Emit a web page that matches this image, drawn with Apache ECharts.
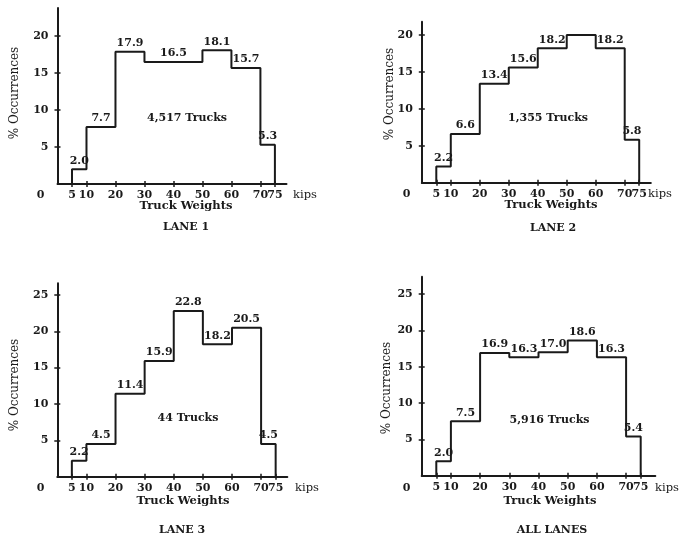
<!DOCTYPE html>
<html>
<head>
<meta charset="utf-8">
<script src="https://cdn.jsdelivr.net/npm/echarts@6/dist/echarts.min.js"></script>
<style>html,body{margin:0;padding:0;background:#fff}#c{width:681px;height:535px}</style>
</head>
<body>
<div id="c"></div>
<script>
// ---- data ----
const binEdges = [5, 10, 20, 30, 40, 50, 60, 70, 75];
const xTickValues = [5, 10, 20, 30, 40, 50, 60, 70, 75];
const lane1Values = [2.0, 7.7, 17.9, 16.5, 16.5, 18.1, 15.7, 5.3];
const lane2Values = [2.2, 6.6, 13.4, 15.6, 18.2, 20.0, 18.2, 5.8];
const lane3Values = [2.2, 4.5, 11.4, 15.9, 22.8, 18.2, 20.5, 4.5];
const allLanesValues = [2.0, 7.5, 16.9, 16.3, 17.0, 18.6, 16.3, 5.4];
// label spans: [first bin, last bin] that a value label is centred over
const lane1LabelSpans = [[0,0],[1,1],[2,2],[3,4],[5,5],[6,6],[7,7]];
const lane2LabelSpans = [[0,0],[1,1],[2,2],[3,3],[4,4],[6,6],[7,7]];
const lane3LabelSpans = [[0,0],[1,1],[2,2],[3,3],[4,4],[5,5],[6,6],[7,7]];
const allLanesLabelSpans = [[0,0],[1,1],[2,2],[3,3],[4,4],[5,5],[6,6],[7,7]];
const panelTitles = ['LANE 1', 'LANE 2', 'LANE 3', 'ALL LANES'];
const truckCounts = ['4,517 Trucks', '1,355 Trucks', '44 Trucks', '5,916 Trucks'];
const yTicksSmall = [5, 10, 15, 20];
const yTicksLarge = [5, 10, 15, 20, 25];

// ---- layout ----
const panels = [
  {values: lane1Values, spans: lane1LabelSpans, yTicks: yTicksSmall,
   grid: {left: 57.5, top: 8, width: 229, height: 176}, xMax: 79, yMax: 23.8,
   zero: [40.5, 195], kips: [293, 195], yTitle: [15, 93], xTitle: [186, 206.5], title: [186, 227], trucks: [187, 118]},
  {values: lane2Values, spans: lane2LabelSpans, yTicks: yTicksSmall,
   grid: {left: 421.8, top: 21.7, width: 229, height: 161}, xMax: 79, yMax: 21.8,
   zero: [406.7, 194.5], kips: [648, 194.5], yTitle: [390, 94], xTitle: [551, 205], title: [553, 228], trucks: [548, 118]},
  {values: lane3Values, spans: lane3LabelSpans, yTicks: yTicksLarge,
   grid: {left: 57.3, top: 283.3, width: 230, height: 193.4}, xMax: 79, yMax: 26.6,
   zero: [40.7, 488], kips: [295, 488], yTitle: [15, 385], xTitle: [183, 501.5], title: [182, 530], trucks: [188, 418]},
  {values: allLanesValues, spans: allLanesLabelSpans, yTicks: yTicksLarge,
   grid: {left: 421.7, top: 276.7, width: 233.6, height: 199}, xMax: 80, yMax: 27.4,
   zero: [406.7, 488], kips: [655, 488], yTitle: [386.7, 388], xTitle: [550, 501.5], title: [552, 530], trucks: [549.5, 420]}
];

const INK = '#1a1a1a';
const FONT = '"DejaVu Serif", serif';
const labelFont = {color: INK, fontFamily: FONT, fontWeight: 'bold', fontSize: 11};

const grids = [], xAxes = [], yAxes = [], series = [], graphics = [];
panels.forEach((p, i) => {
  grids.push(Object.assign({containLabel: false}, p.grid));
  const xBase = {type: 'value', gridIndex: i, position: 'bottom', offset: 0, min: 0, max: p.xMax, splitLine: {show: false}};
  const yBase = {type: 'value', gridIndex: i, position: 'left', offset: 0, min: 0, max: p.yMax, splitLine: {show: false}};
  // the last two x labels nearly touch, so they are split across the two stacked axes
  const lastTick = xTickValues[xTickValues.length - 1];
  xAxes.push(Object.assign({}, xBase, {
    axisLine: {show: true, onZero: false, lineStyle: {color: INK, width: 2}},
    axisTick: {show: true, inside: false, length: 3, customValues: xTickValues, lineStyle: {color: INK, width: 1.5}},
    axisLabel: Object.assign({show: true, customValues: xTickValues.slice(0, -1), hideOverlap: false, margin: 6}, labelFont)
  }));
  xAxes.push(Object.assign({}, xBase, {
    axisLine: {show: false, onZero: false},
    axisTick: {show: true, inside: true, length: 3, customValues: xTickValues, lineStyle: {color: INK, width: 1.5}},
    axisLabel: Object.assign({show: true, customValues: [lastTick], hideOverlap: false, margin: 6}, labelFont)
  }));
  yAxes.push(Object.assign({}, yBase, {
    axisLine: {show: true, onZero: false, lineStyle: {color: INK, width: 2}},
    axisTick: {show: true, inside: false, length: 3, customValues: p.yTicks, lineStyle: {color: INK, width: 1.5}},
    axisLabel: Object.assign({show: true, customValues: p.yTicks, hideOverlap: false, margin: 9}, labelFont)
  }));
  yAxes.push(Object.assign({}, yBase, {
    axisLine: {show: false, onZero: false},
    axisTick: {show: true, inside: true, length: 3, customValues: p.yTicks, lineStyle: {color: INK, width: 1.5}},
    axisLabel: {show: false}
  }));

  // step outline built from bin edges and values
  const pts = [[binEdges[0], 0]];
  p.values.forEach((v, k) => {
    pts.push([binEdges[k], v]);
    pts.push([binEdges[k + 1], v]);
  });
  pts.push([binEdges[binEdges.length - 1], 0]);
  series.push({
    type: 'line', xAxisIndex: i * 2, yAxisIndex: i * 2, data: pts,
    symbol: 'none', lineStyle: {color: INK, width: 2}, silent: true, z: 3
  });
  // value labels
  const labelData = p.spans.map(([a, b]) => ({
    value: [(binEdges[a] + binEdges[b + 1]) / 2, p.values[a]],
    name: p.values[a].toFixed(1)
  }));
  series.push({
    type: 'scatter', xAxisIndex: i * 2, yAxisIndex: i * 2, data: labelData,
    symbolSize: 0, silent: true, z: 4, itemStyle: {opacity: 1},
    label: Object.assign({show: true, position: 'top', distance: 3, formatter: d => d.name, opacity: 1}, labelFont)
  });

  const txt = (pos, text, opts) => graphics.push(Object.assign({
    type: 'text', x: pos[0], y: pos[1], silent: true,
    style: Object.assign({text, fill: INK, font: 'bold 11px ' + FONT, align: 'center', verticalAlign: 'middle'}, opts || {})
  }));
  txt(p.zero, '0');
  graphics.push({type: 'text', x: p.kips[0], y: p.kips[1], silent: true,
    style: {text: 'kips', fill: INK, font: '11.5px ' + FONT, align: 'left', verticalAlign: 'middle'}});
  graphics.push({type: 'text', x: p.yTitle[0], y: p.yTitle[1], rotation: Math.PI / 2, silent: true,
    style: {text: '% Occurrences', fill: INK, font: '12px ' + FONT, align: 'center', verticalAlign: 'middle'}});
  txt(p.xTitle, 'Truck Weights', {font: 'bold 11.5px ' + FONT});
  txt(p.title, panelTitles[i]);
  txt(p.trucks, truckCounts[i]);
});

const chart = echarts.init(document.getElementById('c'), null, {renderer: 'canvas'});
chart.setOption({
  animation: false,
  backgroundColor: '#ffffff',
  grid: grids, xAxis: xAxes, yAxis: yAxes, series: series,
  graphic: graphics
});
</script>
</body>
</html>
